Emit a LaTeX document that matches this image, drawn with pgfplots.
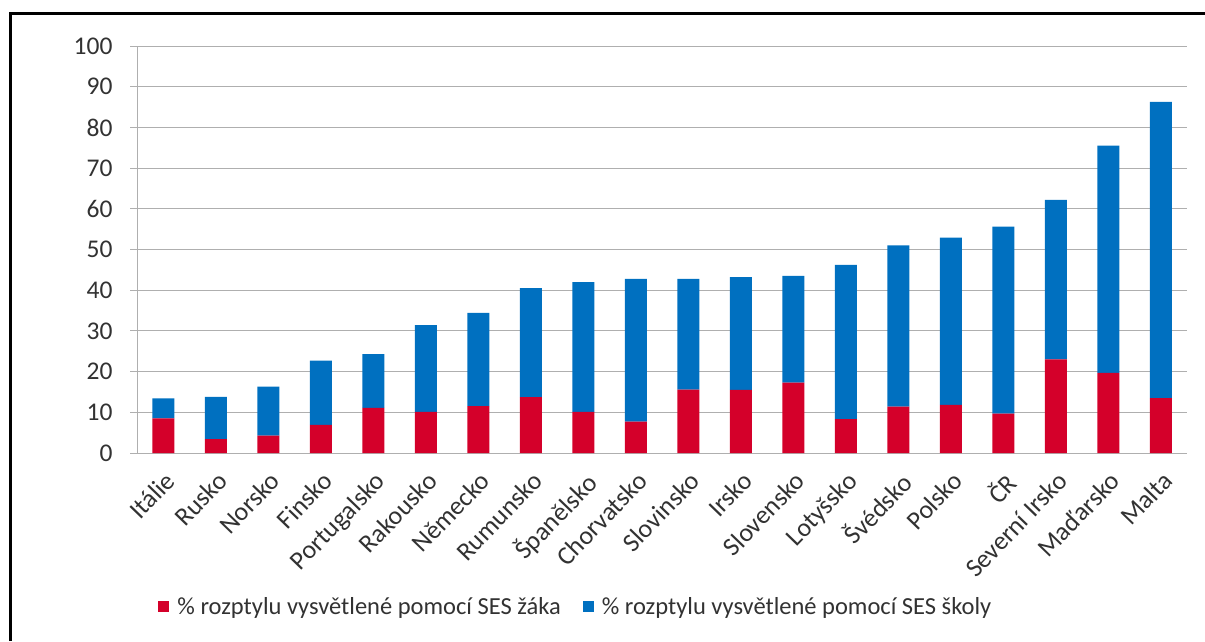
\documentclass[border=0pt]{standalone}
\usepackage{pgfplots}
\pgfplotsset{compat=1.18}
\usepackage{fontspec}
\setmainfont{Carlito}
\definecolor{myred}{RGB}{212,0,42}
\definecolor{myblue}{RGB}{0,112,192}
\definecolor{gridc}{RGB}{175,175,175}
\definecolor{txt}{RGB}{50,50,50}
\begin{document}
\begin{tikzpicture}[x=1pt,y=1pt]
\useasboundingbox (0,0) rectangle (1205,641);
\draw[black, line width=2.5pt] (10.5,0) -- (10.5,627.5) -- (1205,627.5);
\begin{axis}[
  at={(137pt,188pt)}, anchor=south west, scale only axis,
  width=1050pt, height=407pt,
  ybar stacked, bar width=22pt,
  xmin=-0.5, xmax=19.5, ymin=0, ymax=100,
  ytick={0,10,...,100},
  xtick={0,...,19},
  xticklabels={Itálie,Rusko,Norsko,Finsko,Portugalsko,Rakousko,Německo,Rumunsko,Španělsko,Chorvatsko,Slovinsko,Irsko,Slovensko,Lotyšsko,Švédsko,Polsko,ČR,Severní Irsko,Maďarsko,Malta},
  minor xtick={-0.5,0.5,...,19.5},
  axis lines*=left,
  axis line style={gridc, line width=1pt},
  tick align=outside,
  xtick style={draw=none},
  minor x tick style={gridc, line width=1pt},
  minor tick length=6pt,
  ytick style={gridc, line width=1pt},
  major tick length=7pt,
  ymajorgrids, grid style={gridc, line width=1pt},
  /pgf/number format/assume math mode=true,
  yticklabel style={font=\fontsize{25.5}{28}\selectfont, text=txt, xshift=-14pt},
  xticklabel style={font=\fontsize{26}{28}\selectfont, text=txt, rotate=46, anchor=north east, inner sep=1pt, yshift=-6pt, xshift=-6pt},
  legend style={at={(0.418,-0.378)}, anchor=center, draw=none, fill=none,
    legend columns=2, font=\fontsize{24.5}{28}\selectfont, text=txt,
    /tikz/every even column/.append style={column sep=20pt}},
  legend image code/.code={\fill[#1] (0pt,-5pt) rectangle (11pt,6pt); \path (17pt,0pt);},
]
\addplot[fill=myred, draw=none] coordinates {
(0,8.5) (1,3.4) (2,4.3) (3,6.9) (4,11.1) (5,10.1) (6,11.5) (7,13.7) (8,10.1) (9,7.7)
(10,15.6) (11,15.5) (12,17.3) (13,8.3) (14,11.4) (15,11.8) (16,9.7) (17,23.0) (18,19.7) (19,13.5)};
\addlegendentry{\% rozptylu vysvětlené pomocí SES žáka}
\addplot[fill=myblue, draw=none] coordinates {
(0,4.9) (1,10.4) (2,12.0) (3,15.8) (4,13.2) (5,21.3) (6,22.9) (7,26.8) (8,31.9) (9,35.1)
(10,27.2) (11,27.7) (12,26.2) (13,37.9) (14,39.6) (15,41.1) (16,45.9) (17,39.2) (18,55.8) (19,72.8)};
\addlegendentry{\% rozptylu vysvětlené pomocí SES školy}
\end{axis}
\end{tikzpicture}
\end{document}
